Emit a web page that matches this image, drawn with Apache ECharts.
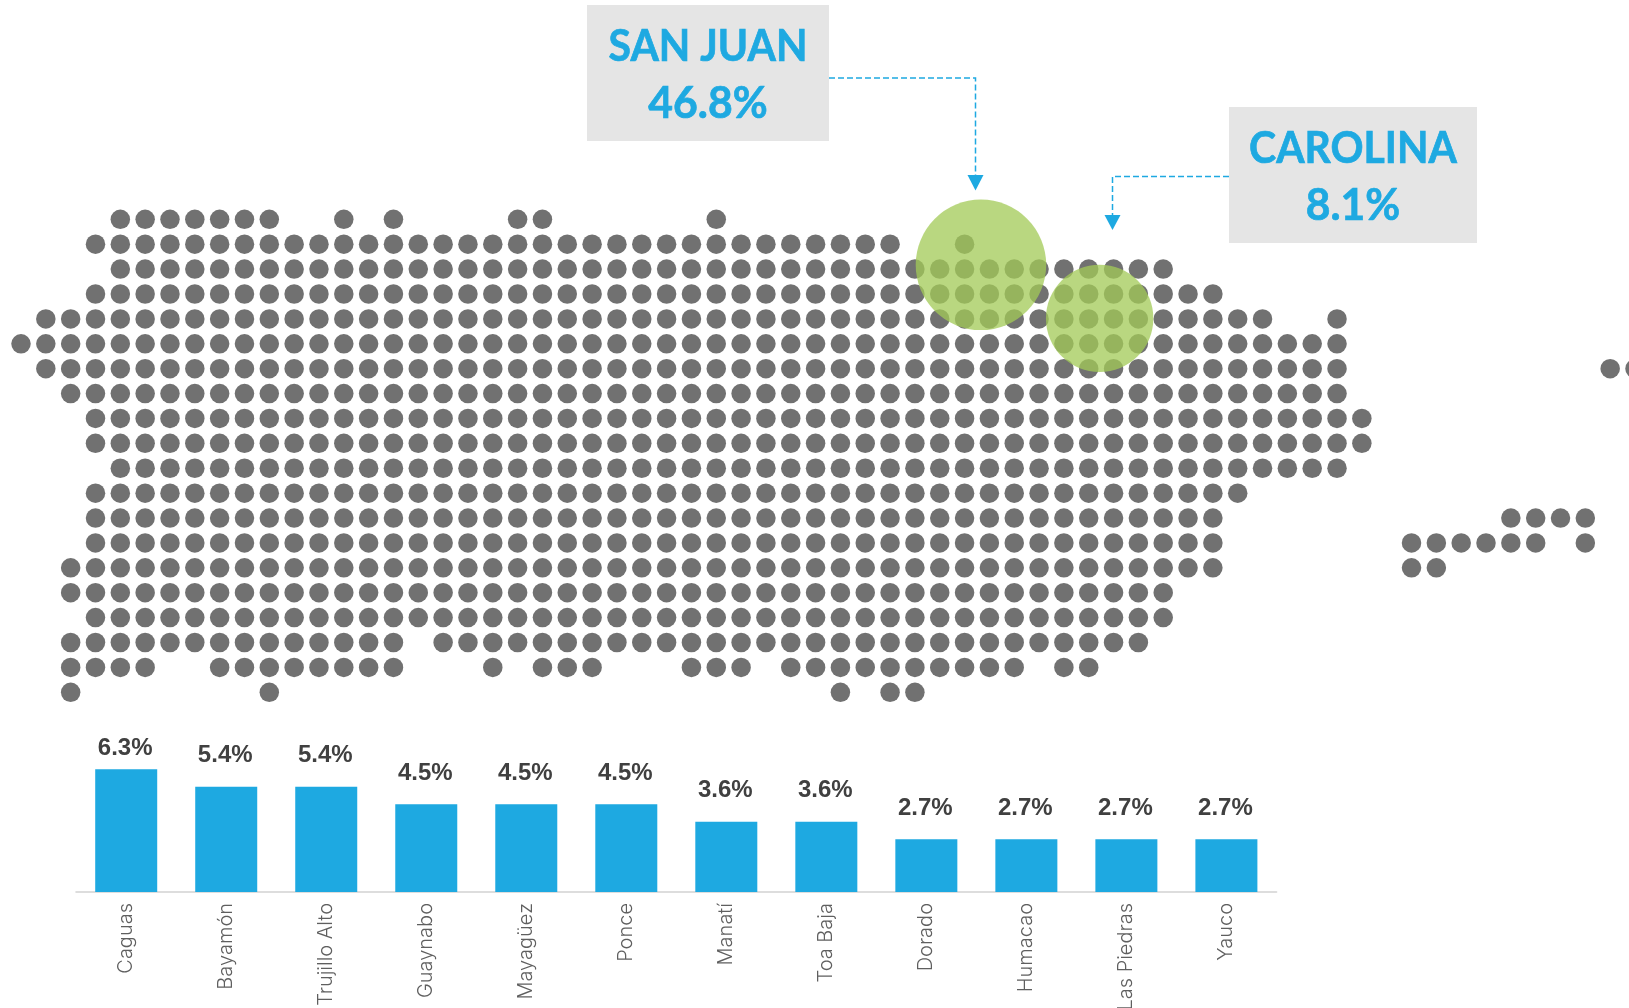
<!DOCTYPE html>
<html>
<head>
<meta charset="utf-8">
<style>html,body{margin:0;padding:0;background:#fff;overflow:hidden}#c{width:1629px;height:1008px}</style>
<script src="https://cdn.jsdelivr.net/npm/echarts@6/dist/echarts.min.js"></script>
</head>
<body>
<div id="c"></div>
<script>
// occupied dot-map cells: one entry per row, each a list of [firstColumn, lastColumn] runs
const dotRows = [
  [[4,10],[13,13],[15,15],[20,21],[28,28]],
  [[3,35],[38,38]],
  [[4,46]],
  [[3,48]],
  [[1,50],[53,53]],
  [[0,53]],
  [[1,53],[64,65]],
  [[2,53]],
  [[3,54]],
  [[3,54]],
  [[4,53]],
  [[3,49]],
  [[3,48],[60,63]],
  [[3,48],[56,61],[63,63]],
  [[2,48],[56,57]],
  [[2,46]],
  [[3,46]],
  [[2,15],[17,45]],
  [[2,5],[8,15],[19,19],[21,23],[27,29],[31,40],[42,43]],
  [[2,2],[10,10],[33,33],[35,36]]
];
const highlightCities = ['SAN JUAN', 'CAROLINA'];
const highlightShares = [46.8, 8.1];
const municipalities = ['Caguas','Bayamón','Trujillo Alto','Guaynabo','Mayagüez','Ponce','Manatí','Toa Baja','Dorado','Humacao','Las Piedras','Yauco'];
const municipalityShares = [6.3,5.4,5.4,4.5,4.5,4.5,3.6,3.6,2.7,2.7,2.7,2.7];

const dots = [];
dotRows.forEach((runs, row) => runs.forEach(([a, b]) => { for (let c = a; c <= b; c++) dots.push([c, row]); }));

const BLUE = '#1EA9E1';
const chart = echarts.init(document.getElementById('c'), null, {renderer: 'canvas'});

function callout(x, y, w, h, cx, city, share, y1, y2) {
  const font = {fontFamily: 'Lato', fontWeight: 'bold', fontSize: 44, fill: BLUE, stroke: BLUE, lineWidth: 0.7, align: 'center', verticalAlign: 'middle'};
  return [
    {type: 'rect', shape: {x, y, width: w, height: h}, style: {fill: '#E5E5E5'}, z: 5},
    {type: 'text', x: cx, y: y1, scaleX: 0.93, style: {text: city, ...font}, z: 6},
    {type: 'text', x: cx, y: y2, scaleX: 0.97, style: {text: share + '%', ...font}, z: 6}
  ];
}
function connector(points, tipX, tipTop, tipBottom) {
  return [
    {type: 'polyline', shape: {points}, style: {stroke: BLUE, lineWidth: 1.5, lineDash: [6, 3], fill: null}, z: 4},
    {type: 'polygon', shape: {points: [[tipX - 8, tipTop], [tipX + 8, tipTop], [tipX, tipBottom]]}, style: {fill: BLUE}, z: 4}
  ];
}

chart.setOption({
  animation: false,
  backgroundColor: '#fff',
  grid: [
    {left: 21, top: 219.3, width: 1614, height: 473, outerBoundsMode: 'none'},
    {left: 76.2, top: 736, width: 1200.2, height: 156, outerBoundsMode: 'none'}
  ],
  xAxis: [
    {type: 'value', gridIndex: 0, min: 0, max: 65, show: false},
    {type: 'category', gridIndex: 1, data: municipalities,
     axisTick: {show: false},
     axisLine: {lineStyle: {color: '#DDDDDD', width: 2}},
     axisLabel: {rotate: 90, interval: 0, margin: 11, fontFamily: 'Inter', fontWeight: 300, fontSize: 20, color: '#5F5F5F'}}
  ],
  yAxis: [
    {type: 'value', gridIndex: 0, min: 0, max: 19, inverse: true, show: false},
    {type: 'value', gridIndex: 1, min: 0, max: 8, show: false}
  ],
  series: [
    {type: 'scatter', xAxisIndex: 0, yAxisIndex: 0, data: dots, symbol: 'circle', symbolSize: 19.5,
     itemStyle: {color: '#717171', opacity: 1}, clip: false, silent: true, z: 2},
    {type: 'scatter', xAxisIndex: 0, yAxisIndex: 0, silent: true, clip: false, z: 3,
     symbol: 'circle', itemStyle: {color: '#A3CA57', opacity: 0.755},
     data: [
       {name: highlightCities[0], value: [38.66, 1.83], symbolSize: 130.5},
       {name: highlightCities[1], value: [43.44, 3.98], symbolSize: 107.4}
     ]},
    {type: 'bar', xAxisIndex: 1, yAxisIndex: 1, barWidth: 62,
     data: municipalityShares.map((v, i) => i === 0 ? {value: v, label: {distance: 9}} : v),
     itemStyle: {color: BLUE},
     label: {show: true, position: 'top', distance: 19, offset: [-1, 0], formatter: p => p.value.toFixed(1) + '%',
             fontFamily: 'Liberation Sans', fontWeight: 'bold', fontSize: 24, color: '#404040'}}
  ],
  graphic: [
    ...connector([[829, 78], [975.5, 78], [975.5, 176]], 975.5, 175, 190.5),
    ...connector([[1229, 176.5], [1112.5, 176.5], [1112.5, 216]], 1112.5, 215, 230),
    ...callout(587, 5, 242, 136, 708, highlightCities[0], highlightShares[0], 47, 104),
    ...callout(1229, 107, 248, 136, 1353, highlightCities[1], highlightShares[1], 149, 206)
  ]
});
</script>
</body>
</html>
